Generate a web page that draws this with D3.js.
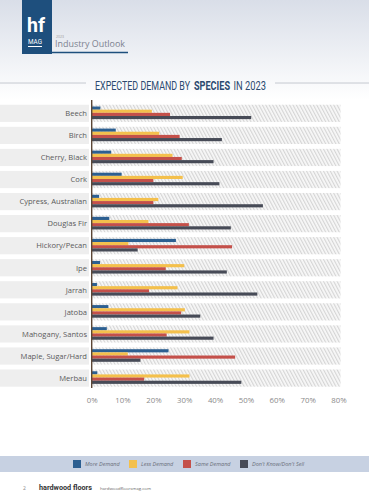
<html>
<head>
<script src="https://d3js.org/d3.v7.min.js"></script>
<style>
  body { margin: 0; background: #fff; }
  svg { display: block; font-family: "Open Sans", "DejaVu Sans", sans-serif; }
</style>
</head>
<body>
<svg id="chart" width="369" height="500"></svg>
<script>
// chart values
var species = ['Beech', 'Birch', 'Cherry, Black', 'Cork', 'Cypress, Australian', 'Douglas Fir',
  'Hickory/Pecan', 'Ipe', 'Jarrah', 'Jatoba', 'Mahogany, Santos', 'Maple, Sugar/Hard', 'Merbau'];
var moreDemand = [2.8, 7.8, 6.3, 9.7, 2.4, 5.7, 27.3, 2.7, 1.7, 5.4, 4.9, 24.9, 1.8];
var lessDemand = [19.5, 21.9, 26.2, 29.5, 21.6, 18.4, 11.9, 30.0, 27.8, 30.2, 31.7, 11.7, 31.7];
var sameDemand = [25.4, 28.5, 29.2, 20.0, 20.0, 31.5, 45.5, 24.0, 18.6, 29.0, 24.3, 46.5, 17.0];
var dontKnow = [51.7, 42.2, 39.5, 41.4, 55.5, 45.1, 14.9, 43.8, 53.7, 35.2, 39.5, 15.8, 48.5];
var seriesNames = ['More Demand', 'Less Demand', 'Same Demand', "Don't Know/Don't Sell"];
var seriesColors = ['#2c5f91', '#f4c04c', '#c4504a', '#474b57'];
var xTicks = [0, 10, 20, 30, 40, 50, 60, 70, 80];

var series = [moreDemand, lessDemand, sameDemand, dontKnow];
var rows = species.map(function (s, i) {
  return { name: s, values: series.map(function (arr, k) { return { key: k, value: arr[i] }; }) };
});

var narrow = '"Roboto", "DejaVu Sans", sans-serif';
var svg = d3.select('#chart');
var defs = svg.append('defs');

var grad = defs.append('linearGradient').attr('id', 'topGrad')
  .attr('x1', 0).attr('y1', 0).attr('x2', 0).attr('y2', 1);
grad.append('stop').attr('offset', '0%').attr('stop-color', '#d9dee8');
grad.append('stop').attr('offset', '100%').attr('stop-color', '#ffffff');

var hatch = defs.append('pattern').attr('id', 'hatch')
  .attr('patternUnits', 'userSpaceOnUse')
  .attr('width', 3).attr('height', 6)
  .attr('patternTransform', 'rotate(-28)');
hatch.append('rect').attr('width', 3).attr('height', 6).attr('fill', '#f8f8f8');
hatch.append('line').attr('x1', 0.6).attr('y1', 0).attr('x2', 0.6).attr('y2', 6)
  .attr('stroke', '#d4d4d4').attr('stroke-width', 1.1);

// header
svg.append('rect').attr('x', 0).attr('y', 0).attr('width', 369).attr('height', 100)
  .attr('fill', 'url(#topGrad)');
svg.append('rect').attr('x', 22).attr('y', 0).attr('width', 30).attr('height', 54)
  .attr('fill', '#1e4f7d');
svg.append('line').attr('x1', 52).attr('x2', 128).attr('y1', 52.5).attr('y2', 52.5)
  .attr('stroke', '#1e4f7d').attr('stroke-width', 1.5);
svg.append('text').attr('x', 27).attr('y', 32)
  .attr('textLength', 18).attr('lengthAdjust', 'spacingAndGlyphs')
  .style('font-family', narrow).style('font-weight', 'bold')
  .style('font-size', '21px').attr('fill', '#fff').text('hf');
svg.append('text').attr('x', 28).attr('y', 44)
  .attr('textLength', 14).attr('lengthAdjust', 'spacingAndGlyphs')
  .style('font-family', narrow)
  .style('font-size', '6.5px').attr('fill', '#fff').text('MAG');
svg.append('line').attr('x1', 28).attr('x2', 42).attr('y1', 46.5).attr('y2', 46.5)
  .attr('stroke', '#fff').attr('stroke-width', 1);
svg.append('text').attr('x', 56).attr('y', 37.5)
  .style('font-size', '3.5px').attr('fill', '#999').text('2023');
svg.append('text').attr('x', 55).attr('y', 47)
  .attr('textLength', 70).attr('lengthAdjust', 'spacingAndGlyphs')
  .style('font-size', '8.5px').attr('fill', '#7d8290').text('Industry Outlook');

// title with rules on both sides
svg.append('line').attr('x1', 0).attr('x2', 86).attr('y1', 83).attr('y2', 83)
  .attr('stroke', '#b8bcc6').attr('stroke-width', 0.8);
svg.append('line').attr('x1', 275).attr('x2', 369).attr('y1', 83).attr('y2', 83)
  .attr('stroke', '#b8bcc6').attr('stroke-width', 0.8);
var titleScale = 0.74;
var titleParts = [
  { text: 'EXPECTED DEMAND BY', x: 95, w: 95, bold: false },
  { text: 'SPECIES', x: 194, w: 36, bold: true },
  { text: 'IN 2023', x: 233.5, w: 32.5, bold: false }
];
svg.append('g').selectAll('text').data(titleParts).enter().append('text')
  .attr('transform', function (d) { return 'translate(' + d.x + ',89.5) scale(' + titleScale + ',1)'; })
  .attr('textLength', function (d) { return d.w / titleScale; }).attr('lengthAdjust', 'spacingAndGlyphs')
  .style('font-family', narrow).style('font-size', '12.5px')
  .style('font-weight', function (d) { return d.bold ? 'bold' : 'normal'; })
  .attr('fill', '#2c4a70')
  .text(function (d) { return d.text; });

// scales
var x = d3.scaleLinear().domain([0, 80]).range([91.7, 338.5]);
var y = d3.scaleBand().domain(species).range([102.3, 389.1]).paddingInner(0.22).paddingOuter(0.11);
var ySub = d3.scaleBand().domain(d3.range(series.length)).range([1.8, 14.4]);

var row = svg.append('g').selectAll('g').data(rows).enter().append('g')
  .attr('transform', function (d) { return 'translate(0,' + y(d.name) + ')'; });

row.append('rect').attr('x', 0).attr('width', 89).attr('height', y.bandwidth())
  .attr('fill', '#eeeeee');
row.append('rect').attr('x', x(0)).attr('width', x(80) - x(0) + 2).attr('height', y.bandwidth())
  .attr('fill', 'url(#hatch)');
row.append('text').attr('x', 87).attr('y', y.bandwidth() / 2 + 2.8)
  .attr('text-anchor', 'end').style('font-size', '7.6px').attr('fill', '#5a5a5a')
  .text(function (d) { return d.name; });

row.selectAll('rect.bar').data(function (d) { return d.values; }).enter().append('rect')
  .attr('class', 'bar')
  .attr('x', x(0))
  .attr('y', function (d) { return ySub(d.key); })
  .attr('width', function (d) { return x(d.value) - x(0); })
  .attr('height', ySub.bandwidth())
  .attr('fill', function (d) { return seriesColors[d.key]; });

// vertical axis line
svg.append('line').attr('x1', x(0)).attr('x2', x(0)).attr('y1', 100).attr('y2', 388)
  .attr('stroke', '#5b4636').attr('stroke-width', 1.4);

// x axis
var xAxis = svg.append('g').attr('transform', 'translate(0,389)')
  .call(d3.axisBottom(x).tickValues(xTicks).tickSize(0).tickPadding(8)
    .tickFormat(function (d) { return d + '%'; }));
xAxis.select('.domain').remove();
xAxis.selectAll('text').style('font-size', '7.8px').attr('fill', '#8a8a8a')
  .style('font-family', '"Open Sans", "DejaVu Sans", sans-serif');

// legend strip
svg.append('rect').attr('x', 0).attr('y', 456).attr('width', 369).attr('height', 16)
  .attr('fill', '#c7d1e2');
var legendX = [73, 129, 183, 240];
var legend = svg.append('g').selectAll('g').data(seriesNames).enter().append('g')
  .attr('transform', function (d, i) { return 'translate(' + legendX[i] + ',460)'; });
legend.append('rect').attr('width', 8).attr('height', 8)
  .attr('fill', function (d, i) { return seriesColors[i]; });
legend.append('text').attr('x', 12).attr('y', 6.2)
  .style('font-size', '5.5px').style('font-style', 'italic').attr('fill', '#6a6f7a')
  .text(function (d) { return d; });

// footer
svg.append('text').attr('x', 23).attr('y', 490).style('font-size', '5px').attr('fill', '#888').text('2');
svg.append('text').attr('x', 39).attr('y', 490)
  .attr('textLength', 53).attr('lengthAdjust', 'spacingAndGlyphs')
  .style('font-family', narrow).style('font-weight', 'bold')
  .style('font-size', '8px').attr('fill', '#333').text('hardwood floors');
svg.append('text').attr('x', 100).attr('y', 490)
  .attr('textLength', 51).attr('lengthAdjust', 'spacingAndGlyphs')
  .style('font-size', '3.6px').attr('fill', '#666').text('hardwoodfloorsmag.com');
</script>
</body>
</html>
